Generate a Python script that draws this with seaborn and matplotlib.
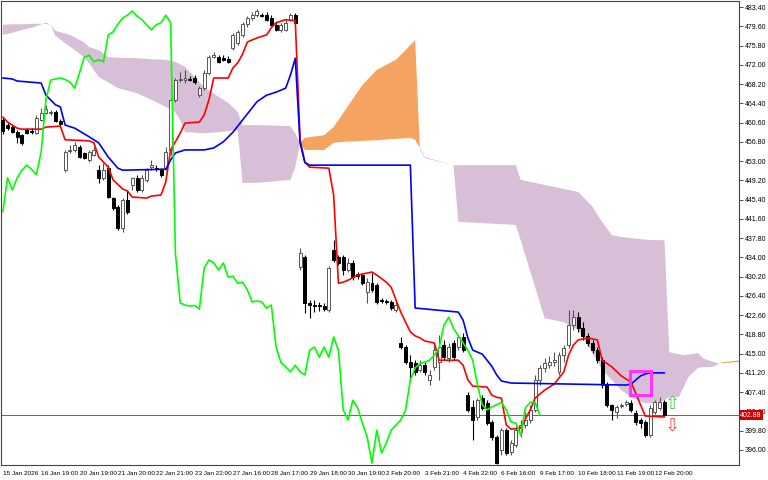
import matplotlib

matplotlib.use("Agg")
import matplotlib.pyplot as plt
import numpy as np
import pandas as pd
import seaborn as sns
from matplotlib.patches import Rectangle

sns.set_theme(style="white")
plt.rcParams["font.family"] = ["Liberation Sans", "DejaVu Sans"]

# Свечи (часовой график)
opens = [461.1, 460.1, 459.7, 458.7, 458.2, 459.1, 458.9, 458.5, 461.1, 462.5,
         462.5, 462.7, 460.9, 451.2, 455.0, 455.2, 455.8, 454.6, 453.2, 454.2,
         451.2, 449.7, 451.6, 445.7, 443.9, 439.8, 445.3, 448.3, 449.7, 447.3,
         449.3, 451.8, 451.6, 451.2, 451.6, 455.2, 465.1, 469.0, 469.0, 469.2,
         469.4, 466.0, 467.4, 470.4, 473.5, 473.5, 473.4, 473.2, 475.3, 476.3,
         477.9, 480.0, 481.2, 481.8, 481.8, 481.8, 481.2, 479.9, 478.9, 478.9,
         480.9, 481.8, 432.1, 434.1, 425.0, 424.6, 424.6, 424.4, 423.6, 435.5,
         434.1, 434.1, 431.5, 432.9, 430.7, 430.5, 427.2, 428.9, 428.5, 425.6,
         425.3, 425.2, 423.6, 417.1, 416.3, 413.3, 413.1, 411.8, 412.7, 409.8,
         412.4, 413.3, 416.7, 414.1, 417.1, 416.3, 418.3, 406.8, 404.5, 402.5,
         406.2, 405.2, 401.5, 398.5, 396.0, 399.9, 395.6, 397.0, 399.5, 400.9,
         401.9, 403.9, 409.8, 412.2, 412.7, 413.3, 411.4, 414.7, 416.7, 420.6,
         422.2, 420.0, 418.5, 417.1, 415.7, 413.7, 408.8, 404.9, 403.5, 404.7,
         405.1, 405.2, 403.3, 401.9, 401.5, 398.9, 403.5, 404.3, 405.4]
highs = [461.7, 460.7, 460.1, 459.1, 458.3, 459.5, 459.5, 462.1, 463.5, 464.1,
         463.1, 463.1, 461.3, 455.2, 456.2, 456.8, 456.2, 454.8, 455.2, 455.8,
         452.2, 452.6, 452.2, 445.9, 444.3, 445.7, 447.3, 449.9, 450.3, 450.3,
         451.6, 453.2, 452.2, 451.6, 455.8, 465.5, 469.4, 470.6, 471.0, 469.8,
         470.0, 467.8, 471.0, 473.9, 474.5, 473.9, 473.9, 473.7, 478.3, 478.9,
         480.5, 481.6, 482.4, 483.0, 482.2, 482.4, 481.8, 480.5, 480.3, 480.9,
         482.2, 482.2, 435.8, 434.5, 425.6, 425.6, 425.2, 425.0, 432.3, 437.4,
         434.5, 434.5, 433.9, 433.5, 431.1, 430.9, 429.9, 430.9, 428.9, 426.0,
         425.8, 425.6, 425.2, 418.3, 416.7, 414.7, 413.7, 413.7, 413.3, 411.8,
         416.7, 418.7, 417.7, 417.1, 417.7, 418.7, 419.1, 407.4, 405.8, 406.2,
         406.8, 405.8, 401.9, 398.9, 400.3, 400.3, 397.9, 400.9, 401.9, 403.5,
         404.9, 410.8, 412.7, 414.1, 414.5, 415.3, 415.3, 416.7, 423.6, 423.6,
         423.2, 421.2, 419.1, 417.7, 416.3, 414.3, 409.4, 405.1, 404.9, 405.2,
         405.8, 405.8, 403.9, 402.3, 401.9, 404.9, 405.8, 406.4, 405.8]
lows = [458.3, 459.1, 458.5, 456.6, 456.2, 458.3, 458.3, 458.3, 460.9, 462.3,
        462.1, 460.7, 459.9, 450.8, 454.6, 454.8, 453.6, 453.4, 452.8, 454.0,
        448.7, 449.3, 445.7, 443.3, 439.4, 439.0, 442.6, 447.3, 446.9, 446.9,
        448.9, 451.2, 451.0, 449.9, 451.2, 454.2, 464.7, 468.6, 468.4, 468.8,
        468.2, 465.7, 467.0, 470.0, 473.4, 472.4, 472.8, 472.4, 474.9, 475.9,
        477.5, 479.5, 480.9, 481.4, 481.4, 480.7, 479.7, 478.7, 478.5, 478.7,
        480.7, 479.9, 431.5, 423.0, 422.0, 423.2, 423.4, 423.4, 423.2, 433.1,
        432.5, 430.5, 431.1, 429.5, 429.7, 428.5, 425.0, 427.2, 424.8, 425.0,
        424.8, 423.6, 423.2, 415.9, 413.0, 409.8, 410.8, 411.4, 410.8, 408.8,
        411.8, 409.8, 413.7, 413.3, 413.7, 415.7, 415.3, 403.5, 397.9, 401.9,
        403.9, 400.9, 397.9, 393.3, 395.0, 395.0, 395.0, 396.6, 398.5, 400.3,
        401.3, 403.5, 408.8, 411.4, 412.2, 412.5, 410.8, 413.3, 416.1, 419.7,
        419.3, 417.7, 416.5, 415.1, 413.1, 408.2, 404.5, 401.9, 402.3, 404.3,
        404.7, 403.5, 400.9, 400.3, 398.5, 398.5, 403.1, 403.9, 402.7]
closes = [458.9, 459.5, 458.7, 457.8, 456.6, 458.5, 458.8, 461.5, 462.5, 463.3,
          462.7, 460.9, 460.3, 454.8, 455.2, 456.2, 453.8, 453.6, 454.8, 455.2,
          449.7, 451.2, 445.9, 443.7, 439.8, 445.3, 443.0, 449.7, 447.3, 449.7,
          451.2, 452.2, 451.4, 450.3, 454.8, 465.1, 469.0, 469.2, 469.4, 469.1,
          468.6, 467.4, 470.4, 473.5, 473.9, 472.6, 473.0, 472.6, 477.9, 478.5,
          480.0, 481.2, 481.8, 482.6, 481.6, 480.9, 479.9, 478.9, 479.9, 480.3,
          481.8, 480.3, 434.8, 425.0, 424.6, 424.4, 424.5, 423.8, 431.9, 433.5,
          432.9, 431.5, 432.9, 430.1, 430.3, 428.9, 429.1, 427.6, 425.2, 425.4,
          425.2, 424.0, 424.6, 416.3, 413.3, 412.4, 411.4, 412.7, 411.4, 410.8,
          415.7, 416.3, 414.3, 416.3, 414.3, 418.3, 415.7, 403.9, 401.9, 405.8,
          404.3, 401.3, 398.5, 393.4, 399.9, 395.4, 397.4, 399.9, 400.9, 401.9,
          403.9, 409.8, 412.2, 413.1, 413.3, 413.7, 414.7, 416.1, 420.6, 422.2,
          420.0, 418.5, 417.1, 415.7, 413.7, 408.8, 404.9, 403.9, 404.5, 404.9,
          405.4, 403.9, 401.5, 401.3, 398.9, 404.3, 405.4, 405.4, 402.88]

# Tenkan-sen (красная) - точки излома линии
tenkan_idx = [0, 1, 3, 4, 8, 9, 12, 13, 18, 19, 20, 22, 23, 25, 26, 27, 30, 31, 33, 34,
              35, 36, 37, 38, 41, 42, 43, 44, 47, 48, 49, 50, 51, 53, 55, 56, 57, 59, 61, 62,
              63, 64, 68, 69, 70, 71, 72, 74, 76, 77, 78, 80, 81, 82, 83, 84, 85, 86, 87, 88,
              90, 91, 95, 96, 97, 98, 101, 102, 103, 104, 105, 106, 108, 110, 111, 113, 115,
              117, 118, 119, 120, 122, 124, 125, 127, 129, 131, 132, 133, 134, 138]
tenkan_val = [461.7, 460.7, 459.5, 459.3, 459.3, 459.7, 459.9, 457.2, 457.0, 456.6,
              453.8, 451.8, 449.3, 447.5, 447.1, 445.9, 445.7, 446.1, 446.3, 448.9,
              455.2, 456.8, 458.5, 460.5, 460.7, 462.1, 465.1, 469.4, 469.4, 471.4,
              472.4, 474.1, 476.5, 477.3, 477.9, 479.3, 480.3, 480.9, 480.7, 457.2,
              452.8, 451.8, 451.6, 446.3, 428.9, 429.1, 429.5, 430.5, 430.9, 431.1,
              430.5, 429.1, 428.1, 425.6, 423.2, 421.2, 419.3, 418.5, 418.1, 417.5,
              417.1, 413.7, 413.7, 412.7, 409.8, 408.6, 408.4, 406.8, 406.4, 406.2,
              400.9, 400.1, 400.3, 403.9, 406.2, 407.8, 409.0, 411.4, 414.7, 416.7,
              417.7, 418.1, 417.7, 413.7, 412.4, 410.6, 409.4, 407.2, 404.9, 402.7,
              402.5]

# Kijun-sen (синяя)
kijun_idx = [0, 2, 3, 8, 9, 11, 12, 13, 15, 18, 20, 22, 24, 25, 34, 35, 36, 38, 42, 44,
             46, 48, 50, 51, 53, 55, 57, 59, 60, 61, 62, 63, 64, 85, 86, 95, 96, 97, 98, 99,
             100, 101, 102, 103, 104, 106, 130, 131, 132, 133, 134, 135, 138]
kijun_val = [469.4, 469.2, 468.8, 468.4, 466.0, 464.1, 463.7, 460.1, 459.5, 457.8,
             456.6, 453.8, 451.6, 451.2, 451.4, 453.2, 454.6, 455.2, 455.2, 455.6,
             456.8, 458.7, 461.1, 462.3, 464.7, 466.0, 466.6, 467.4, 470.0, 473.3,
             456.6, 452.7, 452.2, 452.2, 424.0, 423.2, 421.6, 418.1, 415.7, 415.3,
             414.9, 413.7, 412.5, 410.8, 409.6, 409.2, 408.8, 409.0, 409.8, 410.6,
             411.0, 411.2, 411.2]

# Облако: Senkou Span A и B (сдвинуты на 26 баров вперёд)
cloud_idx = [0, 2, 4, 6, 9, 10, 11, 14, 16, 17, 18, 20, 22, 24, 28, 31, 34, 36, 37, 38,
             40, 41, 42, 45, 47, 49, 50, 53, 60, 61, 62, 63, 67, 69, 71, 75, 78, 79, 82, 84,
             85, 86, 87, 88, 94, 95, 107, 108, 113, 117, 120, 123, 124, 125, 127, 129, 131,
             134, 136, 138, 139, 141, 142, 143, 145, 146, 148, 149, 150, 154]
span_a = [477.9, 478.3, 478.9, 479.3, 480.3, 479.9, 477.7, 475.6, 474.2, 473.5,
          472.3, 469.6, 468.5, 467.4, 466.4, 465.1, 463.7, 462.6, 461.1, 458.7,
          458.6, 458.5, 458.5, 458.7, 458.9, 459.1, 448.7, 448.7, 449.3, 451.8,
          456.6, 457.6, 458.1, 459.7, 462.5, 468.0, 471.0, 471.5, 473.0, 474.9,
          475.9, 476.9, 455.2, 453.6, 452.2, 441.0, 440.4, 437.4, 422.0, 421.2,
          419.7, 415.1, 413.5, 411.8, 409.8, 407.8, 406.4, 405.2, 405.2, 405.8,
          406.4, 406.4, 408.4, 410.4, 412.2, 412.3, 412.4, 412.8, 413.3, 413.7]
span_b = [479.9, 480.0, 480.0, 480.1, 480.1, 479.9, 478.7, 477.9, 476.9, 476.4,
          475.5, 474.9, 473.5, 473.4, 473.3, 473.1, 473.0, 472.6, 472.1, 471.6,
          469.6, 468.6, 467.6, 465.7, 464.5, 462.7, 460.1, 460.1, 459.9, 458.5,
          456.6, 455.2, 455.2, 456.6, 456.8, 457.0, 457.1, 457.2, 457.4, 457.5,
          457.6, 457.2, 455.6, 453.8, 452.2, 452.2, 452.2, 449.3, 448.3, 447.5,
          446.9, 444.0, 442.4, 441.0, 438.4, 438.0, 437.8, 437.5, 437.4, 437.4,
          415.3, 414.9, 414.7, 414.8, 415.1, 414.1, 413.4, 413.1, 413.1, 413.4]

x_labels = ["15 Jan 2026", "16 Jan 19:00", "20 Jan 19:00", "21 Jan 20:00",
            "22 Jan 21:00", "23 Jan 22:00", "27 Jan 16:00", "28 Jan 17:00",
            "29 Jan 18:00", "30 Jan 19:00", "2 Feb 20:00", "3 Feb 21:00",
            "4 Feb 22:00", "6 Feb 16:00", "9 Feb 17:00", "10 Feb 18:00",
            "11 Feb 19:00", "12 Feb 20:00"]
x_label_bars = [0, 8, 16, 24, 32, 40, 48, 56, 64, 72, 80, 88, 96, 104, 112, 120, 128, 136]
y_ticks = [483.40, 479.60, 475.80, 472.00, 468.20, 464.40, 460.60, 456.80, 453.00,
           449.20, 445.40, 441.60, 437.80, 434.00, 430.20, 426.40, 422.60, 418.80,
           415.00, 411.20, 407.40, 403.60, 399.80, 396.00]
last_price = 402.88
chikou_shift = 26

bars = pd.DataFrame({"open": opens, "high": highs, "low": lows, "close": closes})
bars["bar"] = np.arange(len(bars))
bull = bars["close"] >= bars["open"]

fig = plt.figure(figsize=(7.68, 4.8), dpi=100)
ax = fig.add_axes([0.001, 0.031, 0.961, 0.967])

# облако
a = np.array(span_a)
b = np.array(span_b)
ax.fill_between(cloud_idx, a, b, where=a <= b, interpolate=True,
                color="#D8BFD8", lw=0, zorder=1)
ax.fill_between(cloud_idx, a, b, where=a >= b, interpolate=True,
                color="#F4A460", lw=0, zorder=1)

# линия текущей цены
ax.axhline(last_price, color="#b04848", lw=0.7, zorder=2)

# свечи
wick_col = np.where(bull, "#555555", "black")
ax.vlines(bars["bar"], bars["low"], bars["high"], colors=wick_col, lw=0.8, zorder=3)
body = (bars["close"] - bars["open"]).abs().clip(lower=0.05)
ax.bar(bars.loc[bull, "bar"], body[bull], bottom=bars.loc[bull, "open"], width=0.62,
       color="white", edgecolor="#555555", lw=0.7, zorder=3)
ax.bar(bars.loc[~bull, "bar"], body[~bull], bottom=bars.loc[~bull, "close"], width=0.62,
       color="black", edgecolor="black", lw=0.7, zorder=3)

# линии Ишимоку
sns.lineplot(x=tenkan_idx, y=tenkan_val, color="#ff0000", lw=1.2, ax=ax, zorder=4)
sns.lineplot(x=kijun_idx, y=kijun_val, color="#0000ff", lw=1.2, ax=ax, zorder=4)
chikou = bars.iloc[chikou_shift:]
sns.lineplot(x=chikou["bar"] - chikou_shift, y=chikou["close"], color="#00ff00",
             lw=1.2, ax=ax, zorder=4)

# объекты на графике
ax.add_patch(Rectangle((130.9, 406.9), 4.2, 4.6, fill=False, edgecolor="#ff33ff",
                       lw=2.2, zorder=5))
ax.text(139.7, 405.0, "\u21e7", color="#44cc44", fontsize=13, ha="center",
        va="center", family="DejaVu Sans", zorder=5)
ax.text(139.6, 400.9, "\u21e9", color="#ff4444", fontsize=13, ha="center",
        va="center", family="DejaVu Sans", zorder=5)

ax.set_xlim(-0.42, 153.5)
ax.set_ylim(393.0, 484.6)

ax.yaxis.tick_right()
ax.set_yticks(y_ticks)
ax.set_yticklabels([f"{v:.2f}" for v in y_ticks])
ax.set_xticks(x_label_bars)
ax.set_xticklabels(x_labels)
for lbl in ax.get_xticklabels():
    lbl.set_horizontalalignment("left")
ax.tick_params(axis="both", direction="out", length=3, width=0.6, colors="#333333",
               labelsize=5, pad=1.5)
ax.tick_params(axis="x", labelsize=4.6)
ax.tick_params(axis="y", labelcolor="black")
ax.tick_params(axis="x", labelcolor="black")
for s in ax.spines.values():
    s.set_color("#444444")
    s.set_linewidth(0.8)
ax.set_xlabel("")
ax.set_ylabel("")

ax.text(1.002, last_price, f"{last_price:.2f}", transform=ax.get_yaxis_transform(),
        fontsize=5, color="white", va="center", ha="left",
        bbox=dict(facecolor="#d00000", edgecolor="none", pad=1.0), zorder=6)

fig.savefig("out.png", dpi=100)
